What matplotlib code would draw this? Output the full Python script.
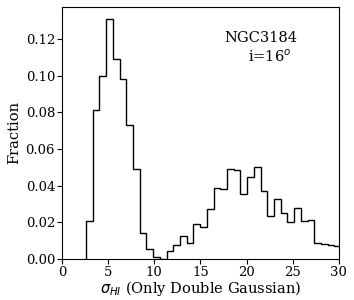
import matplotlib
matplotlib.use('Agg')
import matplotlib.pyplot as plt
import numpy as np

plt.rcParams['font.family'] = 'DejaVu Serif'

# histogram bin edges (km/s) and fractions
bin_start = 2.6
bin_end = 30.26
fractions = [0.021, 0.081, 0.100, 0.131, 0.109, 0.098, 0.073, 0.049, 0.014,
             0.0055, 0.0011, 0.0, 0.0043, 0.0076, 0.0129, 0.0087, 0.0189,
             0.0178, 0.0271, 0.039, 0.0383, 0.049, 0.0484, 0.0355, 0.0448,
             0.0503, 0.0372, 0.0235, 0.033, 0.0251, 0.020, 0.0277, 0.0209,
             0.0213, 0.0087, 0.0082, 0.0077, 0.0071]
galaxy = 'NGC3184'
incl_label = r'i=16$^o$'

edges = np.linspace(bin_start, bin_end, len(fractions) + 1)

fig = plt.figure(figsize=(3.54, 3.0), dpi=100)
ax = fig.add_axes([0.175, 0.136, 0.782, 0.842])
ax.stairs(fractions, edges, color='k', linewidth=1.0)

ax.set_xlim(0, 30)
ax.set_ylim(0, max(fractions) * 1.05)
ax.set_yticks(np.arange(0, 0.13, 0.02))
ax.tick_params(labelsize=9.5, length=3.5, pad=1.5)
ax.set_xlabel(r'$\sigma_{HI}$ (Only Double Gaussian)', fontsize=10.5, labelpad=0)
ax.set_ylabel('Fraction', fontsize=10.5, labelpad=3)

ax.text(25.5, 0.1205, galaxy, ha='right', va='center', fontsize=10.5)
ax.text(24.85, 0.1105, incl_label, ha='right', va='center', fontsize=10.5)

fig.savefig('out.png', dpi=100)
